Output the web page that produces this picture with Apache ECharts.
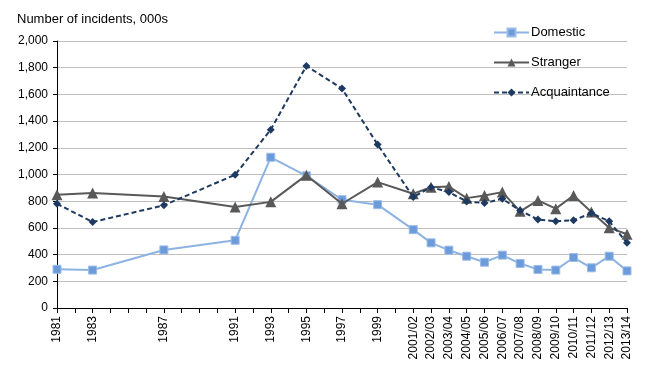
<!DOCTYPE html>
<html>
<head>
<meta charset="utf-8">
<script src="https://cdn.jsdelivr.net/npm/echarts@6/dist/echarts.min.js"></script>
<style>html,body{margin:0;padding:0;background:#fff;}#c{width:654px;height:372px;}</style>
</head>
<body>
<div id="c"></div>
<script>
const categories = ['1981','1983','1987','1991','1993','1995','1997','1999','2001/02','2002/03','2003/04','2004/05','2005/06','2006/07','2007/08','2008/09','2009/10','2010/11','2011/12','2012/13','2013/14'];
const domestic = [290,284,435,507,1129,990,811,774,587,488,433,388,343,396,333,289,284,378,301,388,278];
const stranger = [848,861,836,756,795,995,781,943,856,905,910,823,843,868,724,806,744,843,719,602,552];
const acquaintance = [781,644,769,998,1336,1813,1644,1224,831,905,868,798,786,818,731,662,649,657,711,649,488];
const yTicks = [0,200,400,600,800,1000,1200,1400,1600,1800,2000];

const years = categories.map(c => parseInt(c.slice(0,4),10));
const labelByYear = {};
categories.forEach((c,i) => { labelByYear[years[i]] = c; });
const pts = arr => arr.map((v,i) => [years[i], v]);
const fmt = v => String(v).replace(/\B(?=(\d{3})+(?!\d))/g, ',');
const FONT = 'Liberation Sans';

const chart = echarts.init(document.getElementById('c'), null, {renderer:'canvas'});
chart.setOption({
  animation: false,
  backgroundColor: '#fff',
  textStyle: {fontFamily: FONT},
  title: {
    text: 'Number of incidents, 000s', left: 12, top: 8,
    textStyle: {fontSize: 13, fontWeight: 'normal', color: '#000', fontFamily: FONT}
  },
  legend: {
    orient: 'vertical', left: 488, top: 21, itemWidth: 35, itemHeight: 10, itemGap: 17,
    textStyle: {fontSize: 13, color: '#000', fontFamily: FONT, padding: [0,0,0,-3]},
    data: ['Domestic','Stranger','Acquaintance']
  },
  grid: {left: 57, right: 27, top: 41, bottom: 64, containLabel: false},
  xAxis: {
    type: 'value', min: years[0], max: years[years.length-1], interval: 1,
    axisLine: {show: true, lineStyle: {color: '#000', width: 1}},
    axisTick: {show: true, length: 5, lineStyle: {color: '#000'}},
    splitLine: {show: false},
    axisLabel: {
      rotate: 90, fontSize: 12, color: '#000', fontFamily: FONT, margin: 8,
      showMinLabel: true, showMaxLabel: true,
      formatter: v => labelByYear[v] || ''
    }
  },
  yAxis: {
    type: 'value', min: yTicks[0], max: yTicks[yTicks.length-1], interval: 200,
    axisLine: {show: true, lineStyle: {color: '#000', width: 1}},
    axisTick: {show: true, length: 4, inside: false, lineStyle: {color: '#000'}},
    splitLine: {show: true, lineStyle: {color: '#BFBFBF', width: 1}},
    axisLabel: {fontSize: 12, color: '#000', fontFamily: FONT, margin: 9, formatter: v => fmt(v)}
  },
  series: [
    {
      name: 'Domestic', type: 'line', data: pts(domestic),
      symbol: 'rect', symbolSize: 8,
      lineStyle: {color: '#8DB3E2', width: 2},
      itemStyle: {color: '#6B9BDA', borderColor: '#9BBCE6', borderWidth: 1},
      z: 2
    },
    {
      name: 'Stranger', type: 'line', data: pts(stranger),
      symbol: 'triangle', symbolSize: 11,
      lineStyle: {color: '#595959', width: 2},
      itemStyle: {color: '#595959'},
      z: 3
    },
    {
      name: 'Acquaintance', type: 'line', data: pts(acquaintance),
      symbol: 'diamond', symbolSize: 8,
      lineStyle: {color: '#1F3A60', width: 2, type: [5,3]},
      itemStyle: {color: '#1F3A60'},
      z: 4
    }
  ]
});
</script>
</body>
</html>
